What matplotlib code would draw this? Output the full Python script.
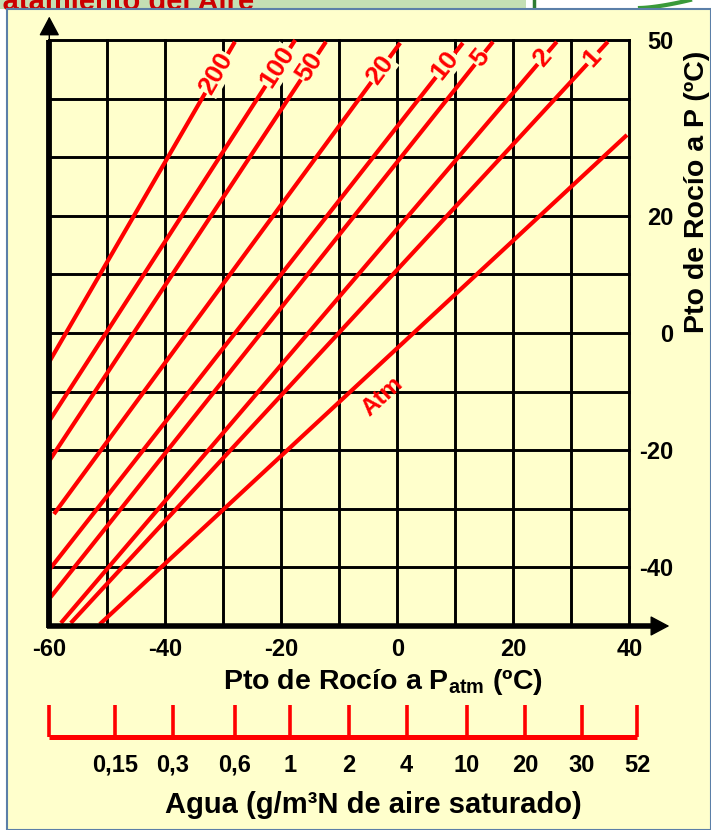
import numpy as np
import matplotlib
matplotlib.use('Agg')
import matplotlib.pyplot as plt
from matplotlib.patches import Rectangle
from matplotlib.lines import Line2D

plt.rcParams['font.family'] = ['Liberation Sans', 'DejaVu Sans']
plt.rcParams['font.weight'] = 'bold'
plt.rcParams['mathtext.fontset'] = 'custom'
plt.rcParams['mathtext.rm'] = 'Liberation Sans:bold'
plt.rcParams['mathtext.bf'] = 'Liberation Sans:bold'
plt.rcParams['mathtext.it'] = 'Liberation Sans:bold'
plt.rcParams['mathtext.default'] = 'rm'

# ---------------- data ----------------
line_names = ['200', '100', '50', '20', '10', '5', '2', '1', 'Atm']
line_x_start = [-60.0, -60.0, -60.0, -59.2, -60.0, -59.8, -58.0, -56.3, -51.3]
line_y_start = [-4.9, -15.0, -21.8, -30.9, -40.4, -45.1, -49.5, -49.5, -49.7]
line_x_end = [-28.0, -17.6, -12.3, 0.5, 11.3, 16.5, 27.5, 36.3, 39.6]
line_y_end = [49.7, 50.0, 49.7, 49.5, 49.5, 49.7, 49.7, 49.7, 33.8]
label_y = [44.3, 45.4, 45.4, 44.9, 45.7, 46.9, 46.9, 46.9]
atm_label_x = -5.5

x_ticks = [-60, -50, -40, -30, -20, -10, 0, 10, 20, 30, 40]
x_tick_labels = ['-60', '', '-40', '', '-20', '', '0', '', '20', '', '40']
y_ticks = [-50, -40, -30, -20, -10, 0, 10, 20, 30, 40, 50]
y_tick_labels = ['', '-40', '', '-20', '', '0', '', '20', '', '', '50']

water_pos = [-60.0, -48.7, -38.7, -28.0, -18.5, -8.4, 1.6, 12.0, 22.0, 31.8, 41.4]
water_labels = ['', '0,15', '0,3', '0,6', '1', '2', '4', '10', '20', '30', '52']

# ---------------- figure ----------------
W, H = 711, 830
fig = plt.figure(figsize=(W / 100, H / 100), dpi=100, facecolor='white')

def fx(px):
    return px / W

def fy(py):
    return 1 - py / H

RED = '#FF0000'
YELLOW = '#FFFFCC'

# header decorations
fig.patches.append(Rectangle((0, fy(9)), fx(526), 9 / H, transform=fig.transFigure,
                             facecolor='#C4DFB4', edgecolor='none', zorder=-3))
fig.text(fx(254), fy(10), 'Tratamiento del Aire', ha='right', va='baseline',
         color='#CC0000', fontsize=21, fontweight='bold', zorder=-2)
fig.patches.append(Rectangle((fx(526), fy(9)), 185 / W, 9 / H, transform=fig.transFigure,
                             facecolor='white', edgecolor='none', zorder=-3))
fig.lines.append(Line2D([fx(534), fx(534)], [fy(0), fy(9)], transform=fig.transFigure,
                        color='#2E7D32', lw=2.5, zorder=-2))
tt = np.linspace(0, 1, 20)
fig.lines.append(Line2D(fx(640 + 50 * tt), fy(8 - 8 * tt ** 1.5), transform=fig.transFigure,
                        color='#3A9A3A', lw=3, zorder=-2))
# panel
fig.patches.append(Rectangle((fx(7), 0), (W - 7) / W, fy(9), transform=fig.transFigure,
                             facecolor=YELLOW, edgecolor='#5B7FA8', lw=1.5, zorder=-1))

# ---------------- main axes ----------------
ax = fig.add_axes([fx(49.3), fy(626), (629.3 - 49.3) / W, (626 - 40) / H])
ax.set_zorder(2)
ax.set_facecolor('none')
ax.set_xlim(-60, 40)
ax.set_ylim(-50, 50)
for s in ax.spines.values():
    s.set_visible(False)

ax.set_xticks(x_ticks)
ax.set_xticklabels(x_tick_labels)
ax.set_yticks(y_ticks)
ax.set_yticklabels(y_tick_labels)
ax.yaxis.tick_right()
ax.tick_params(axis='x', length=0, pad=9, labelsize=17)
ax.tick_params(axis='y', length=0, pad=32, labelsize=17)
for lab in ax.get_yticklabels():
    lab.set_horizontalalignment('right')
for lab in ax.get_xticklabels() + ax.get_yticklabels():
    lab.set_fontweight('bold')

# grid
for gx in x_ticks:
    ax.axvline(gx, color='black', lw=2.1, clip_on=False, zorder=2)
for gy in y_ticks:
    ax.axhline(gy, color='black', lw=2.1, clip_on=False, zorder=2)

# axes with arrows
ax.plot([0, 0], [-0.004, 1.0], transform=ax.transAxes, color='black', lw=4.2,
        clip_on=False, zorder=5, solid_capstyle='butt')
ax.annotate('', xy=(0, 1.04), xytext=(0, 0.99), xycoords='axes fraction',
            arrowprops=dict(arrowstyle='-|>,head_length=0.6,head_width=0.32', color='black',
                            lw=1, mutation_scale=20, shrinkA=0, shrinkB=0), zorder=5)
ax.plot([-0.004, 1.04], [0, 0], transform=ax.transAxes, color='black', lw=4.0,
        clip_on=False, zorder=5, solid_capstyle='butt')
ax.annotate('', xy=(1.069, 0), xytext=(1.03, 0), xycoords='axes fraction',
            arrowprops=dict(arrowstyle='-|>,head_length=0.6,head_width=0.32', color='black',
                            lw=1, mutation_scale=20, shrinkA=0, shrinkB=0), zorder=5)

# red pressure lines
for i, name in enumerate(line_names):
    xs = [line_x_start[i], line_x_end[i]]
    ys = [line_y_start[i], line_y_end[i]]
    ax.plot(xs, ys, color=RED, lw=3.0, clip_on=False, zorder=3, solid_capstyle='butt')
    slope = (ys[1] - ys[0]) / (xs[1] - xs[0])
    ang = np.degrees(np.arctan(slope))
    if name != 'Atm':
        ly = label_y[i]
        lx = np.interp(ly, ys, xs)
        ax.text(lx, ly, name, color=RED, fontsize=19, fontweight='bold',
                ha='center', va='center', rotation=ang, rotation_mode='anchor',
                transform_rotates_text=True, zorder=4,
                bbox=dict(facecolor=YELLOW, edgecolor='none', pad=0.3))
    else:
        ly = np.interp(atm_label_x, xs, ys)
        ax.annotate(name, xy=(atm_label_x, ly), xytext=(17, -19), textcoords='offset pixels',
                    color=RED, fontsize=17.5, fontweight='bold', ha='center', va='center',
                    rotation=ang * 0.995, rotation_mode='anchor', zorder=4)

fig.text(fx(383), fy(682), r'Pto de Rocío a P$_{\mathrm{atm}}$ (ºC)', ha='center', va='center',
         fontsize=20.5, fontweight='bold')
fig.text(fx(697), fy(192), 'Pto de Rocío a P (ºC)', rotation=90, ha='center', va='center',
         fontsize=20.5, fontweight='bold')

# ---------------- water scale ----------------
ax2 = fig.add_axes([fx(49.3), fy(737), (629.3 - 49.3) / W, 32 / H])
ax2.set_zorder(2)
ax2.set_xlim(-60, 40)
ax2.set_ylim(0, 1)
ax2.axis('off')
ax2.hlines(0, water_pos[0], water_pos[-1], color=RED, lw=3.6, clip_on=False)
ax2.vlines(water_pos, 0, 1, color=RED, lw=2.6, clip_on=False)
for p, lbl in zip(water_pos, water_labels):
    ax2.text(p, -0.88, lbl, ha='center', va='center', fontsize=17, fontweight='bold',
             clip_on=False)

fig.text(fx(373), fy(805), 'Agua (g/m³N de aire saturado)', ha='center', va='center',
         fontsize=21, fontweight='bold')

fig.savefig('out.png', dpi=100, facecolor=fig.get_facecolor())
